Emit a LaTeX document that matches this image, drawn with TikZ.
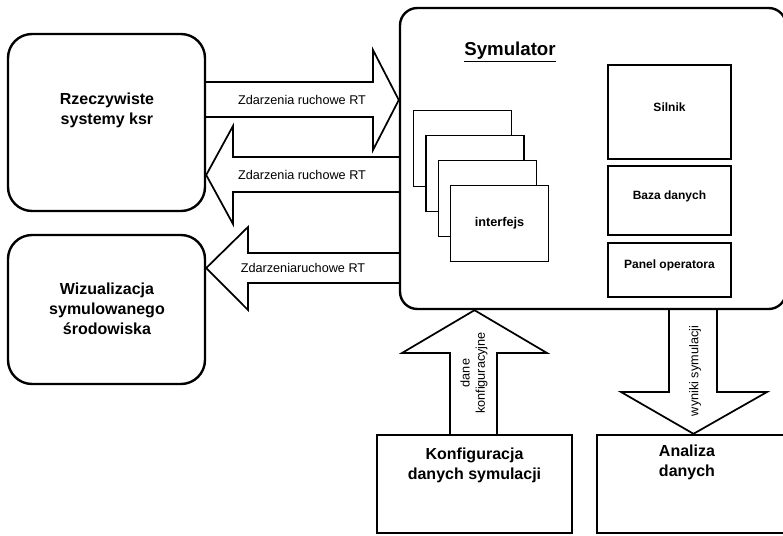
\documentclass[tikz,border=0pt]{standalone}
\usepackage{fontspec}
\setmainfont{Liberation Sans}
\usepackage{tikz}
\usetikzlibrary{fit,positioning}

\tikzset{
  roundbox/.style={draw, line width=1.8pt, rounded corners=18pt, inner sep=0pt},
  simbox/.style={draw, line width=1.8pt, rounded corners=13pt, inner sep=0pt},
  sqbox/.style={draw, line width=1.8pt, inner sep=0pt},
  partbox/.style={draw, line width=1.4pt, inner sep=0pt, font=\bfseries\fontsize{9}{11}\selectfont},
  ifbox/.style={draw, fill=white, line width=0.9pt, minimum width=73.5pt, minimum height=57pt, inner sep=0pt},
  blockarr/.style={line width=1.3pt, line join=miter},
  boxtext/.style={align=center, inner sep=0.75pt, font=\bfseries\fontsize{12}{15}\selectfont},
  arrtext/.style={inner sep=0.75pt, font=\fontsize{9.5}{11}\selectfont}
}

\begin{document}
\begin{tikzpicture}[x=0.75pt,y=0.75pt,yscale=-1,xscale=1]
\useasboundingbox (0,0) rectangle (783,536);

%Shape: Rounded Rect
\node[roundbox, fit={(8,34) (205,211)}] (rzecz) {};
% Text Node
\node[boxtext] (rzeczT) at (107,110) {Rzeczywiste\\systemy ksr};
%Shape: Rounded Rect
\node[roundbox, fit={(8,235) (205,384)}] (wiz) {};
% Text Node
\node[boxtext] (wizT) at (107,309) {Wizualizacja\\symulowanego\\środowiska};

%Shape: Rounded Rect
\node[simbox, fit={(400,8) (786,309)}] (sim) {};
% Text Node
\node[inner sep=0.75pt, font=\bfseries\fontsize{14}{16}\selectfont] (simT) at (510,52) {\underline{Symulator}};

%Shape: Rectangle
\node[partbox, fit={(608,65) (731,159)}] (silnik) {Silnik};
\node[partbox, fit={(608,166) (731,235)}] (baza) {Baza danych};
\node[partbox, fit={(608,243) (731,297)}] (panel) {Panel operatora};

%Shape: stacked interfaces
\foreach \i in {0,...,3}
  \node[ifbox, anchor=north west] (if\i) at (413+12.3*\i,110+25*\i) {};
\node[font=\bfseries\fontsize{9.5}{11}\selectfont] (ifT) at (if3.center) {interfejs};

%Shape: Rectangle
\node[sqbox, fit={(377,435) (572,533)}] (konf) {};
\node[boxtext, below=10pt of konf.north] (konfT) {Konfiguracja\\danych symulacji};
\node[sqbox, fit={(597,435) (790,533)}] (anal) {};
\node[boxtext, anchor=north] (analT) at (687,444) {Analiza\\danych};

% Text Node
\node[arrtext] (lab1) at (302,100) {Zdarzenia ruchowe RT};
\node[arrtext] (lab2) at (302,175) {Zdarzenia ruchowe RT};
\node[arrtext] (lab3) at (303,268) {Zdarzeniaruchowe RT};

%Block Arrows
\draw[blockarr] (rzecz.east |- 0,82) -- (373,82) -- (373,50) -- (sim.west |- lab1) -- (373,150) -- (373,117) -- (rzecz.east |- 0,117);
\draw[blockarr] (sim.west |- 0,157) -- (233,157) -- (233,126) -- (rzecz.east |- lab2) -- (233,224) -- (233,192) -- (sim.west |- 0,192);
\draw[blockarr] (sim.west |- 0,253) -- (248,253) -- (248,227) -- (wiz.east |- lab3) -- (248,310) -- (248,283) -- (sim.west |- 0,283);
\draw[blockarr] (konf.north -| 450,0) -- (450,353) -- (402,353) -- (sim.south -| konf.north) -- (547,353) -- (497,353) -- (konf.north -| 497,0);
\draw[blockarr] (sim.south -| 669,0) -- (669,392) -- (621,392) -- (anal.north) -- (767,392) -- (717,392) -- (sim.south -| 717,0);

% Text Node
\node[arrtext, rotate=90, align=center, font=\fontsize{9.5}{11.5}\selectfont] (confL) at (474,373) {dane\\konfiguracyjne};
\node[arrtext, rotate=90] (wynL) at (695,371) {wyniki symulacji};

\end{tikzpicture}
\end{document}
